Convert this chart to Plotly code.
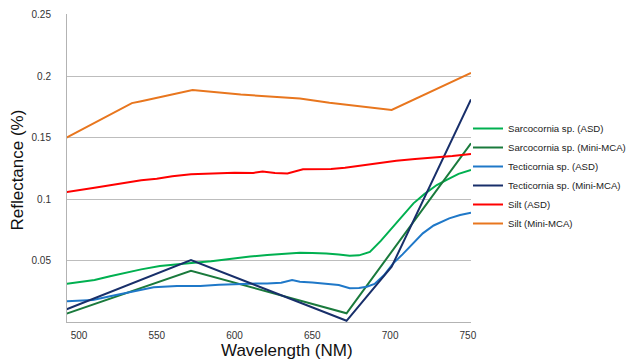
import plotly.graph_objects as go

# ---- data ----
sarc_asd_wl = [492, 500, 510, 520, 531, 540, 552, 562, 574, 585, 599, 610, 621, 631, 642, 650, 659, 667, 674, 680, 687, 694, 702, 708, 715, 722, 730, 737, 744, 752]
sarc_asd_val = [0.031, 0.0325, 0.0341, 0.0372, 0.0404, 0.0428, 0.0455, 0.047, 0.0482, 0.0495, 0.0518, 0.0532, 0.0545, 0.0553, 0.0563, 0.0561, 0.0558, 0.0548, 0.0539, 0.0542, 0.057, 0.066, 0.0775, 0.087, 0.0965, 0.104, 0.1114, 0.116, 0.1205, 0.1236]

sarc_mca_wl = [492, 572, 672, 752]
sarc_mca_val = [0.0068, 0.0417, 0.0071, 0.1453]

tect_asd_wl = [492, 500, 509, 520, 531, 540, 548, 563, 578, 590, 599, 610, 621, 630, 637, 642, 650, 659, 667, 674, 680, 685, 690, 696, 702, 708, 714, 721, 728, 738, 745, 752]
tect_asd_val = [0.0168, 0.0172, 0.0179, 0.021, 0.0238, 0.026, 0.0282, 0.0293, 0.0293, 0.0302, 0.0309, 0.0312, 0.0314, 0.032, 0.0341, 0.0328, 0.0322, 0.0314, 0.0301, 0.0274, 0.0276, 0.0287, 0.031, 0.038, 0.0477, 0.055, 0.063, 0.0721, 0.0785, 0.0843, 0.087, 0.0889]

tect_mca_wl = [492, 572, 672, 701, 752]
tect_mca_val = [0.0103, 0.0504, 0.001, 0.045, 0.181]

silt_asd_wl = [492, 500, 510, 520, 530, 540, 550, 560, 572, 585, 600, 612, 618, 626, 634, 644, 655, 662, 671, 683, 693, 704, 716, 730, 740, 752]
silt_asd_val = [0.1057, 0.107, 0.1092, 0.1112, 0.1135, 0.1152, 0.1165, 0.1185, 0.1202, 0.1208, 0.1213, 0.1212, 0.1224, 0.1212, 0.1208, 0.1242, 0.1245, 0.1245, 0.1255, 0.1276, 0.129, 0.1311, 0.1325, 0.1338, 0.135, 0.1366]

silt_mca_wl = [492, 534, 540, 573, 604, 642, 661, 701, 752]
silt_mca_val = [0.150, 0.178, 0.1795, 0.1886, 0.185, 0.1818, 0.1783, 0.1724, 0.2025]

series_names = ["Sarcocornia sp. (ASD)", "Sarcocornia sp. (Mini-MCA)", "Tecticornia sp. (ASD)",
                "Tecticornia sp. (Mini-MCA)", "Silt (ASD)", "Silt (Mini-MCA)"]
series_colors = ["#00B050", "#1A7A3C", "#1F78C8", "#182F6A", "#FF0000", "#E8761E"]

x_ticks = [500, 550, 600, 650, 700, 750]
y_ticks = [0.05, 0.1, 0.15, 0.2, 0.25]
y_tick_text = ["0.05", "0.1", "0.15", "0.2", "0.25"]

FONT = "Arial, Liberation Sans, sans-serif"

fig = go.Figure()
data = [(sarc_asd_wl, sarc_asd_val), (sarc_mca_wl, sarc_mca_val), (tect_asd_wl, tect_asd_val),
        (tect_mca_wl, tect_mca_val), (silt_asd_wl, silt_asd_val), (silt_mca_wl, silt_mca_val)]
for (wl, v), name, col in zip(data, series_names, series_colors):
    fig.add_trace(go.Scatter(x=wl, y=v, mode="lines", name=name,
                             line=dict(color=col, width=2)))

fig.update_layout(
    width=629, height=361,
    margin=dict(l=67, r=158, t=14, b=39, autoexpand=False),
    paper_bgcolor="white", plot_bgcolor="white",
    font=dict(family=FONT, color="#333333", size=10),
    showlegend=True,
    legend=dict(xref="container", yref="container", x=468 / 629, xanchor="left",
                y=1 - 176 / 361, yanchor="middle",
                font=dict(family=FONT, size=9.6, color="#222222"),
                bgcolor="rgba(0,0,0,0)", itemwidth=30, tracegroupgap=0),
    xaxis=dict(range=[492.3, 752], tickvals=x_ticks, showgrid=False, zeroline=False,
               showline=True, linecolor="#b3b3b3", linewidth=1, ticks="",
               ticklabelstandoff=4, tickfont=dict(size=10, color="#333333")),
    yaxis=dict(range=[0, 0.2505], tickvals=y_ticks, ticktext=y_tick_text,
               showgrid=True, gridcolor="#bdbdbd", gridwidth=1, zeroline=False,
               showline=True, linecolor="#b3b3b3", linewidth=1, ticks="",
               ticklabelstandoff=13, tickfont=dict(size=10, color="#333333")),
    annotations=[
        dict(text="Reflectance (%)", xref="paper", yref="paper", x=-0.1213, y=0.495,
             textangle=-90, showarrow=False, font=dict(family=FONT, size=17, color="#111111"),
             xanchor="center", yanchor="middle"),
        dict(text="Wavelength (NM)", xref="paper", yref="paper", x=0.5446, y=-0.091,
             showarrow=False, font=dict(family=FONT, size=17, color="#111111"),
             xanchor="center", yanchor="middle"),
    ],
)

fig.write_html("out.html")
